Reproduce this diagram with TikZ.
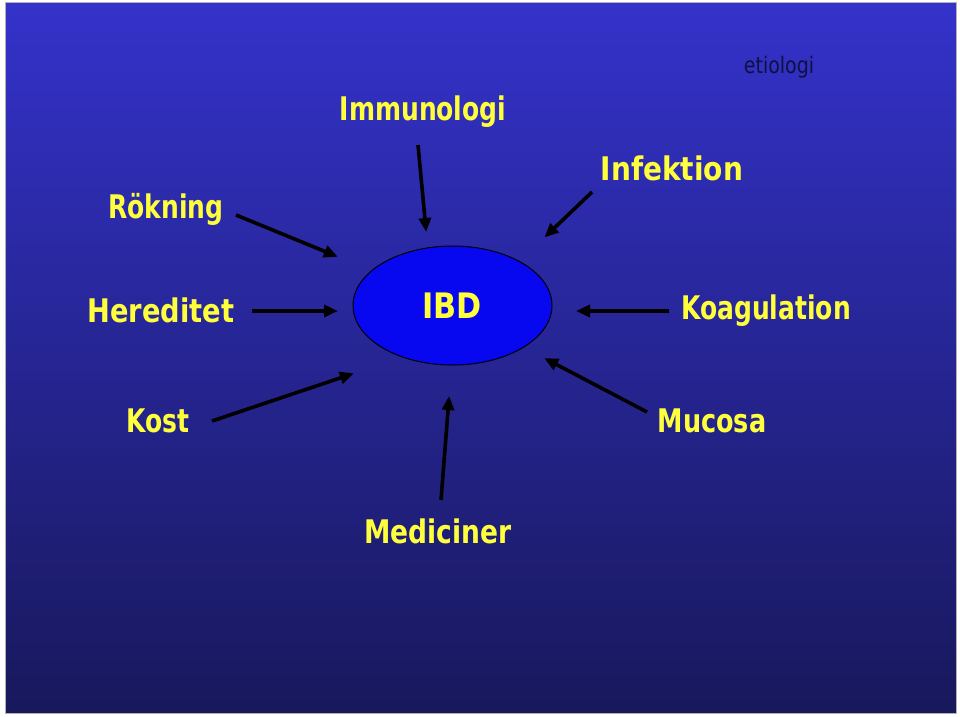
\documentclass[tikz,border=0pt]{standalone}
\usepackage{fontspec}
\setmainfont{DejaVu Sans}
\usetikzlibrary{arrows.meta,shapes.geometric}
\definecolor{bgtop}{RGB}{52,50,202}
\definecolor{bgbot}{RGB}{24,24,92}
\definecolor{ibdfill}{RGB}{8,8,240}
\definecolor{lbl}{RGB}{255,255,60}
\definecolor{dark}{RGB}{16,16,64}
\newcommand{\tallt}[2][1]{\scalebox{#1}[1.3]{#2}}
\tikzset{
  lab/.style={text=lbl, font=\fontsize{25}{30}\selectfont\bfseries, inner sep=0pt, anchor=center},
  arr/.style={line width=3.6pt, draw=black, -{Triangle[length=14pt,width=12pt]}, shorten >=-2pt},
}
\begin{document}
\begin{tikzpicture}[x=1pt,y=-1pt]
\useasboundingbox (0,0) rectangle (960,716);
\fill[white] (0,0) rectangle (960,716);
\shade[top color=bgtop, bottom color=bgbot, draw=gray!60, line width=0.6pt] (5,2) rectangle (956,713);

\node[draw=black, line width=1pt, fill=ibdfill, ellipse, minimum width=199pt, minimum height=119pt, inner sep=0pt] (ibd) at (452.5,305.5) {};
\node[lab, font=\fontsize{27}{30}\selectfont\bfseries] (ibdt) at (452,306) {\tallt[1.12]{IBD}};

\node[text=dark, font=\fontsize{19}{22}\selectfont, inner sep=0pt] (etio) at (779,67) {\scalebox{1}[1.2]{etiologi}};
\node[lab] (imm) at (423,112) {\tallt{Immunologi}};
\node[lab] (inf) at (672,168) {\tallt[1.12]{Infektion}};
\node[lab] (rok) at (166,209) {\tallt{Rökning}};
\node[lab] (her) at (161,310) {\tallt[1.09]{Hereditet}};
\node[lab] (koa) at (766,311) {\tallt{Koagulation}};
\node[lab] (kos) at (158,421) {\tallt{Kost}};
\node[lab] (muc) at (712,421) {\tallt[1.02]{Mucosa}};
\node[lab] (med) at (438,531) {\tallt[1.06]{Mediciner}};

\coordinate (rokA) at (236,215); \coordinate (rokB) at (336,256);
\coordinate (immA) at (418,145); \coordinate (immB) at (426,230);
\coordinate (infA) at (592,192); \coordinate (infB) at (546,236);
\coordinate (herA) at (252,311); \coordinate (herB) at (336,311);
\coordinate (koaA) at (669,311); \coordinate (koaB) at (578,311);
\coordinate (kosA) at (212,421); \coordinate (kosB) at (352,374);
\coordinate (mucA) at (647,412); \coordinate (mucB) at (546,359);
\coordinate (medA) at (441,500); \coordinate (medB) at (449,398);

\draw[arr] (rokA) -- (rokB);
\draw[arr] (immA) -- (immB);
\draw[arr] (infA) -- (infB);
\draw[arr] (herA) -- (herB);
\draw[arr] (koaA) -- (koaB);
\draw[arr] (kosA) -- (kosB);
\draw[arr] (mucA) -- (mucB);
\draw[arr] (medA) -- (medB);
\end{tikzpicture}
\end{document}
